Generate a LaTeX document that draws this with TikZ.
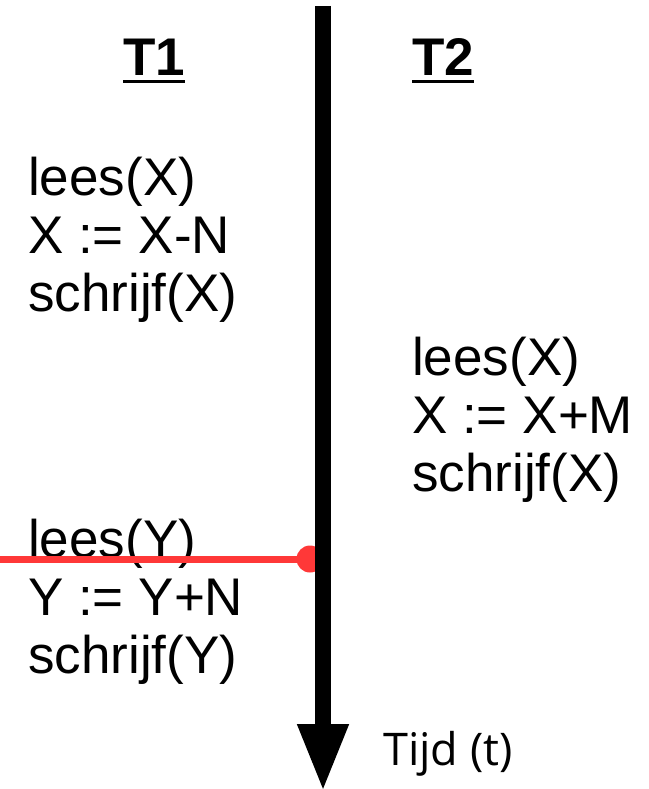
\documentclass[tikz,border=0pt]{standalone}
\usepackage{fontspec}
\setmainfont{Liberation Sans}
\newfontfamily\tijdfont{Open Sans}
\usetikzlibrary{arrows.meta}
\definecolor{hitred}{RGB}{255,56,56}

\begin{document}
\begin{tikzpicture}[x=1pt,y=-1pt,
  stmt/.style={anchor=base west,inner sep=0pt,font=\fontsize{53}{58}\selectfont},
  head/.style={anchor=base west,inner sep=0pt,font=\fontsize{53}{58}\selectfont\bfseries},
  uline/.style={line width=3pt}]
  \useasboundingbox (0,0) rectangle (648,789);
  % headings
  \node[head] (t1) at (123,76) {T1};
  \node[head] (t2) at (412,76) {T2};
  \draw[uline] ([yshift=-6pt]t1.base west) -- ([yshift=-6pt]t1.base east);
  \draw[uline] ([yshift=-6pt]t2.base west) -- ([yshift=-6pt]t2.base east);
  % statements
  \foreach \txt [count=\i from 0] in {lees(X),X := X-N,schrijf(X)}
    \node[stmt] (a\i) at (28,{195+58*\i}) {\txt};
  \foreach \txt [count=\i from 0] in {lees(X),X := X+M,schrijf(X)}
    \node[stmt] (b\i) at (412,{375+58*\i}) {\txt};
  \foreach \txt [count=\i from 0] in {lees(Y),Y := Y+N,schrijf(Y)}
    \node[stmt] (c\i) at (28,{557+58*\i}) {\txt};
  % interrupt
  \coordinate (edge) at (0,559);
  \node[circle,fill=hitred,minimum size=27pt,inner sep=0pt] (hit) at (310,559) {};
  \draw[hitred,line width=7pt] (edge) -- (hit.center);
  % time axis
  \coordinate (start) at (323,6);
  \coordinate (end) at (323,792);
  \draw[line width=16pt,-{Triangle[width=47pt,length=68pt]}] (start) -- (end);
  \node[anchor=base west,inner sep=0pt,font=\fontsize{45}{50}\tijdfont] (tijd) at (383,765) {Tijd (t)};
\end{tikzpicture}
\end{document}
